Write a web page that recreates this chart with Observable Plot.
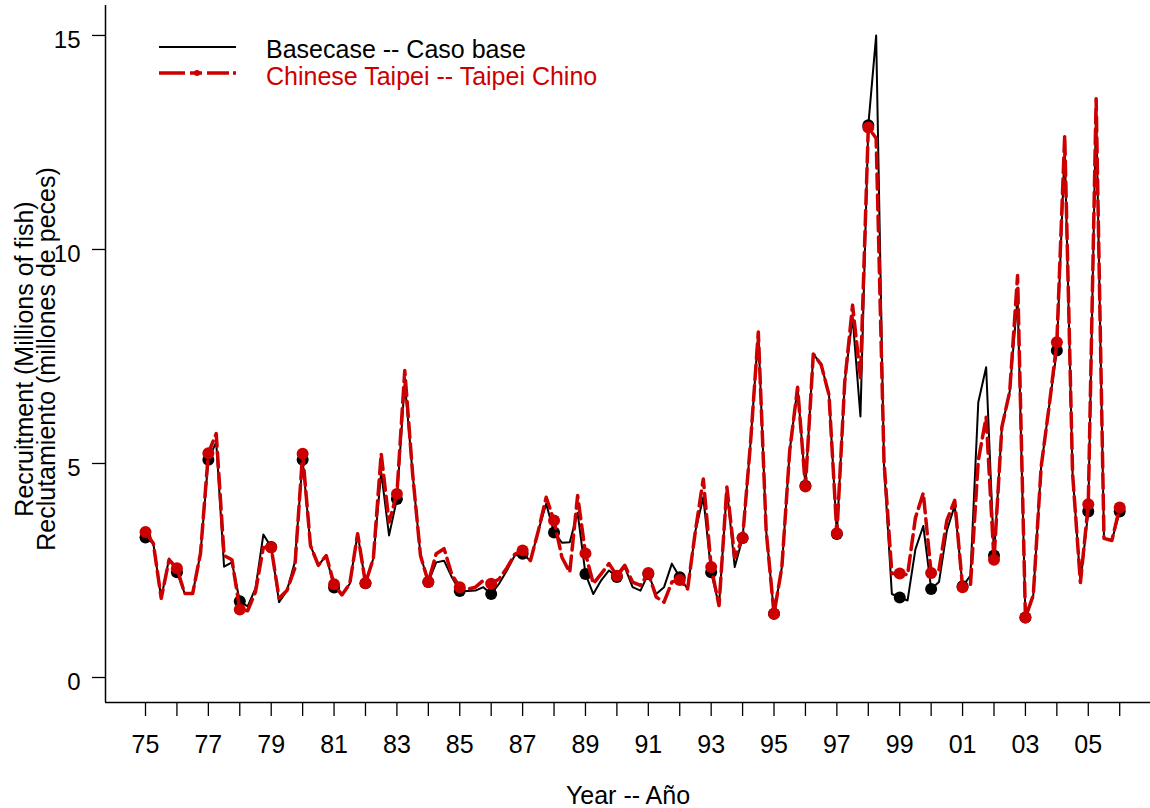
<!DOCTYPE html>
<html>
<head>
<meta charset="utf-8">
<script src="https://cdn.jsdelivr.net/npm/d3@7"></script>
<script src="https://cdn.jsdelivr.net/npm/@observablehq/plot@0.6"></script>
<style>
  html, body { margin: 0; padding: 0; background: #fff; }
  #wrap { position: relative; width: 1150px; height: 808px; font-family: "Liberation Sans", Arial, sans-serif; }
</style>
</head>
<body>
<div id="wrap">
  <div id="chart"></div>
  <svg id="legend" width="700" height="100" style="position:absolute;left:0;top:0">
    <line x1="159" x2="236" y1="47" y2="47" stroke="#000" stroke-width="2"/>
    <line x1="159" x2="236" y1="73" y2="73" stroke="#cc0000" stroke-width="3.5" stroke-dasharray="26,5,12,5,22,4,4"/>
    <circle cx="197" cy="73" r="3" fill="#cc0000"/>
    <text x="266" y="58" font-size="25" font-family="Liberation Sans, Arial, sans-serif" fill="#000">Basecase -- Caso base</text>
    <text x="266" y="85" font-size="25" font-family="Liberation Sans, Arial, sans-serif" fill="#cc0000">Chinese Taipei -- Taipei Chino</text>
  </svg>
</div>
<script>
// Quarterly recruitment, first quarter of 1975 to first quarter of 2006
const startYear = 1975;
const baseCase = [
  3.27, 3.13, 1.85, 2.78,   // 1975
  2.46, 1.96, 1.96, 2.90,   // 1976
  5.09, 5.50, 2.59, 2.69,   // 1977
  1.78, 1.66, 2.08, 3.34,   // 1978
  3.05, 1.76, 2.03, 2.69,   // 1979
  5.09, 3.08, 2.62, 2.85,   // 1980
  2.10, 1.93, 2.19, 3.36,   // 1981
  2.20, 2.78, 4.80, 3.32,   // 1982
  4.17, 6.90, 4.76, 2.85,   // 1983
  2.23, 2.69, 2.73, 2.34,   // 1984
  2.02, 2.02, 2.03, 2.11,   // 1985
  1.95, 2.19, 2.50, 2.85,   // 1986
  2.89, 2.73, 3.43, 4.06,   // 1987
  3.39, 3.15, 3.16, 3.85,   // 1988
  2.42, 1.95, 2.27, 2.50,   // 1989
  2.35, 2.58, 2.11, 2.03,   // 1990
  2.42, 1.95, 2.11, 2.66,   // 1991
  2.34, 2.07, 3.43, 4.21,   // 1992
  2.46, 1.68, 4.40, 2.58,   // 1993
  3.26, 5.46, 8.07, 3.43,   // 1994
  1.49, 2.58, 5.30, 6.78,   // 1995
  4.48, 7.56, 7.31, 6.60,   // 1996
  3.35, 6.90, 8.42, 6.10,   // 1997
  12.90, 15.00, 4.95, 1.95, // 1998
  1.87, 1.80, 3.00, 3.54,   // 1999
  2.07, 2.23, 3.43, 4.02,   // 2000
  2.13, 2.38, 6.43, 7.25,   // 2001
  2.85, 5.85, 6.68, 8.89,   // 2002
  1.40, 1.92, 4.92, 6.31,   // 2003
  7.64, 12.38, 4.77, 2.22,  // 2004
  3.88, 13.35, 3.25, 3.20,  // 2005
  3.88                      // 2006
];
const chineseTaipei = [
  3.40, 3.13, 1.85, 2.75,   // 1975
  2.55, 1.96, 1.96, 2.90,   // 1976
  5.24, 5.70, 2.85, 2.75,   // 1977
  1.59, 1.56, 2.00, 3.04,   // 1978
  3.04, 1.85, 2.03, 2.55,   // 1979
  5.23, 3.08, 2.62, 2.85,   // 1980
  2.18, 1.93, 2.19, 3.36,   // 1981
  2.20, 2.78, 5.23, 3.63,   // 1982
  4.29, 7.17, 4.76, 2.85,   // 1983
  2.23, 2.89, 3.01, 2.40,   // 1984
  2.11, 2.06, 2.11, 2.27,   // 1985
  2.19, 2.30, 2.56, 2.88,   // 1986
  2.97, 2.73, 3.43, 4.21,   // 1987
  3.67, 2.81, 2.46, 4.25,   // 1988
  2.90, 2.19, 2.42, 2.66,   // 1989
  2.38, 2.62, 2.23, 2.15,   // 1990
  2.44, 1.88, 1.76, 2.23,   // 1991
  2.28, 2.07, 3.43, 4.64,   // 1992
  2.58, 1.68, 4.45, 2.80,   // 1993
  3.26, 5.46, 8.07, 3.43,   // 1994
  1.49, 2.58, 5.30, 6.78,   // 1995
  4.46, 7.56, 7.31, 6.60,   // 1996
  3.37, 6.90, 8.70, 7.00,   // 1997
  12.85, 12.60, 5.05, 2.43, // 1998
  2.43, 2.40, 3.73, 4.31,   // 1999
  2.44, 2.52, 3.67, 4.14,   // 2000
  2.11, 2.15, 5.07, 6.08,   // 2001
  2.75, 5.85, 6.68, 9.39,   // 2002
  1.40, 1.92, 4.92, 6.31,   // 2003
  7.83, 12.67, 4.77, 2.22,  // 2004
  4.05, 13.52, 3.25, 3.20,  // 2005
  3.97                      // 2006
];
const tickYears = [1975,1976,1977,1978,1979,1980,1981,1982,1983,1984,1985,1986,1987,1988,1989,1990,
                   1991,1992,1993,1994,1995,1996,1997,1998,1999,2000,2001,2002,2003,2004,2005,2006];
const labeledYears = [1975,1977,1979,1981,1983,1985,1987,1989,1991,1993,1995,1997,1999,2001,2003,2005];
const yTicks = [0, 5, 10, 15];
const xTitle = "Year -- Año";
const yTitle1 = "Recruitment (Millions of fish)";
const yTitle2 = "Reclutamiento (millones de peces)";

const xDomain = [1973.727, 2006.98];
const yDomain = [-0.584, 15.70];
const RED = "#cc0000";

const data = baseCase.map((v, i) => ({t: startYear + i / 4, base: v, ct: chineseTaipei[i]}));
const annual = data.filter((d, i) => i % 4 === 0);

const font = "Liberation Sans, Arial, sans-serif";

const chart = Plot.plot({
  width: 1150,
  height: 808,
  marginLeft: 105,
  marginRight: 0,
  marginTop: 5,
  marginBottom: 106,
  style: {fontFamily: font, background: "#fff", color: "#000"},
  x: {domain: xDomain, label: null},
  y: {domain: yDomain, label: null},
  marks: [
    Plot.ruleX([xDomain[0]], {stroke: "#000", strokeWidth: 1.5}),
    Plot.ruleY([yDomain[0]], {stroke: "#000", strokeWidth: 1.5}),
    Plot.axisY({ticks: yTicks, tickSize: 13, tickFormat: () => "", strokeWidth: 1.3, label: null}),
    Plot.axisY({ticks: yTicks, tickSize: 0, tickPadding: 25, dy: 5, fontSize: 24, label: null}),
    Plot.axisX({ticks: tickYears, tickSize: 14, tickPadding: 19, fontSize: 25, strokeWidth: 1.3,
      tickFormat: d => labeledYears.includes(d) ? String(d).slice(2) : "", label: null}),
    Plot.line(data, {x: "t", y: "base", stroke: "#000", strokeWidth: 2}),
    Plot.dot(annual, {x: "t", y: "base", r: 6, fill: "#000", stroke: null}),
    Plot.line(data, {x: "t", y: "ct", stroke: RED, strokeWidth: 3.5, strokeDasharray: "15,6"}),
    Plot.dot(annual, {x: "t", y: "ct", r: 6, fill: RED, stroke: null}),
    Plot.text([xTitle], {frameAnchor: "bottom", dy: 93, text: d => d, fontSize: 25, lineAnchor: "middle", textAnchor: "middle", fill: "#000"}),
    Plot.text([yTitle1], {frameAnchor: "left", dx: -81, dy: 5, rotate: -90, text: d => d, fontSize: 25, lineAnchor: "middle", textAnchor: "middle", fill: "#000"}),
    Plot.text([yTitle2], {frameAnchor: "left", dx: -59, dy: 5, rotate: -90, text: d => d, fontSize: 25, lineAnchor: "middle", textAnchor: "middle", fill: "#000"})
  ]
});
document.getElementById("chart").appendChild(chart);
</script>
</body>
</html>
